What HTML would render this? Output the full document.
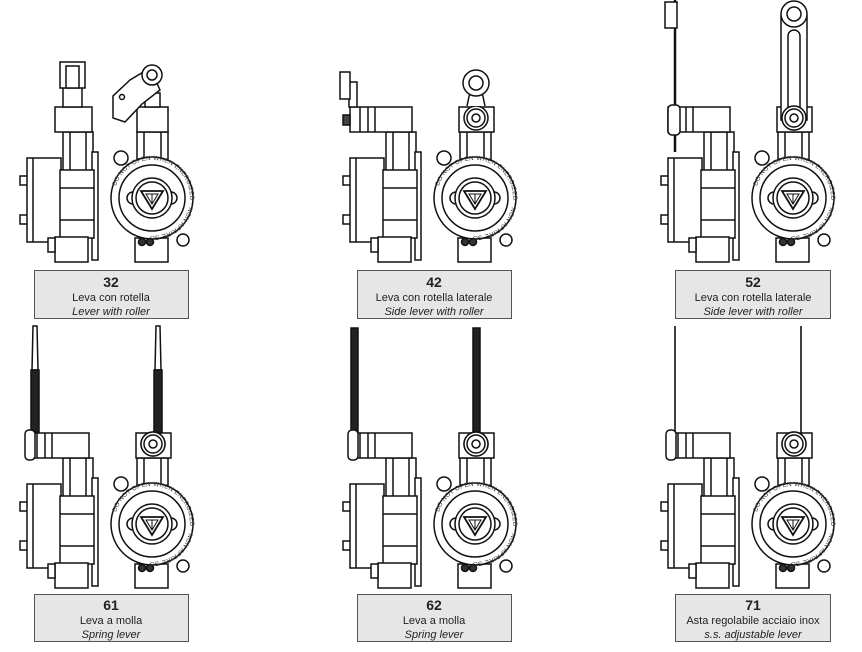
<!DOCTYPE html>
<html><head><meta charset="utf-8"><style>
html,body{margin:0;padding:0;background:#fff;}
svg{display:block;}
.lb{font-family:"Liberation Sans",sans-serif;fill:#222;}
</style></head><body>
<svg width="862" height="652" viewBox="0 0 862 652" xmlns="http://www.w3.org/2000/svg">
<defs>
<path id="ring" d="M152,236 A38,38 0 1,1 152.1,236"/>
<g id="base" fill="#fff" stroke="#111" stroke-width="1.5">
  <rect x="63" y="132" width="30" height="40"/>
  <line x1="70" y1="132" x2="70" y2="170"/><line x1="86" y1="132" x2="86" y2="170"/>
  <rect x="92" y="152" width="6" height="108"/>
  <rect x="20" y="176" width="9" height="9"/><rect x="20" y="215" width="9" height="9"/>
  <rect x="27" y="158" width="34" height="84"/>
  <line x1="33" y1="158" x2="33" y2="242"/>
  <rect x="60" y="170" width="34" height="68"/>
  <line x1="60" y1="188" x2="94" y2="188"/><line x1="60" y1="220" x2="94" y2="220"/>
  <rect x="55" y="237" width="33" height="25"/>
  <rect x="48" y="238" width="7" height="14"/>
  <rect x="137" y="132" width="31" height="30"/>
  <line x1="144" y1="132" x2="144" y2="162"/><line x1="161" y1="132" x2="161" y2="162"/>
  <rect x="135" y="238" width="33" height="24"/>
  <circle cx="121" cy="158" r="7"/><circle cx="183" cy="240" r="6"/>
  <circle cx="152" cy="198" r="41"/>
  <circle cx="152" cy="198" r="33"/>
  <circle cx="133" cy="198" r="6"/><circle cx="171" cy="198" r="6"/>
  <circle cx="152" cy="198" r="20"/>
  <circle cx="152" cy="198" r="16"/>
  <path d="M141,191 L163,191 L152,209 Z" fill="none" stroke-width="1.8"/>
  <path d="M146,194 L158,194 L152,204 Z M152,194 L152,204" fill="none" stroke-width="1"/>
  <circle cx="142" cy="242" r="3.5" fill="#333"/><circle cx="150" cy="242" r="3.5" fill="#333"/>
  <text font-family="Liberation Sans,sans-serif" font-size="6.2" fill="#333" stroke="none" letter-spacing="0.3"><textPath href="#ring" startOffset="30%">DO NOT OPEN WHEN ENERGIZED · NON APRIRE SOTTO TENSIONE</textPath></text>
</g>
<g id="lhead" fill="#fff" stroke="#111" stroke-width="1.5">
  <rect x="27" y="107" width="62" height="25"/>
  <line x1="37" y1="107" x2="37" y2="132"/><line x1="45" y1="107" x2="45" y2="132"/><line x1="52" y1="107" x2="52" y2="132"/>
  <rect x="136" y="107" width="35" height="25"/>
  <circle cx="153" cy="118" r="12"/><circle cx="153" cy="118" r="9"/><circle cx="153" cy="118" r="4"/>
</g>
</defs>

<g>
  <use href="#base"/>
  <g fill="#fff" stroke="#111" stroke-width="1.5">
    <rect x="55" y="107" width="37" height="25"/>
    <rect x="63" y="82" width="19" height="25"/>
    <rect x="60" y="62" width="25" height="26"/>
    <rect x="66" y="66" width="13" height="22"/>
    <rect x="137" y="107" width="31" height="25"/>
    <rect x="145" y="93" width="15" height="14"/>
    <path d="M113,96 L113,118 L125,122 L142,104 L160,90 L150,68 L130,80 Z"/>
    <circle cx="152" cy="75" r="10"/><circle cx="152" cy="75" r="5"/>
    <circle cx="122" cy="97" r="2.5"/>
  </g>
</g>
<g transform="translate(323,0)">
  <use href="#base"/><use href="#lhead"/>
  <g fill="#fff" stroke="#111" stroke-width="1.5">
    <rect x="26" y="82" width="8" height="25"/>
    <rect x="17" y="72" width="10" height="27"/>
    <rect x="20" y="115" width="7" height="10" fill="#444"/>
    <path d="M144,106 L147,92 L159,92 L162,106"/>
    <circle cx="153" cy="83" r="13"/><circle cx="153" cy="83" r="7"/>
  </g>
</g>
<g transform="translate(641,0)">
  <use href="#base"/><use href="#lhead"/>
  <g fill="#fff" stroke="#111" stroke-width="1.5">
    <line x1="34" y1="0" x2="34" y2="152" stroke-width="2.5"/>
    <rect x="24" y="2" width="12" height="26"/>
    <rect x="27" y="105" width="12" height="30" rx="4"/>
    <rect x="140" y="16" width="26" height="104"/>
    <rect x="147" y="30" width="12" height="90" rx="6"/>
    <circle cx="153" cy="14" r="13"/><circle cx="153" cy="14" r="7"/>
    <circle cx="153" cy="118" r="12"/><circle cx="153" cy="118" r="9"/><circle cx="153" cy="118" r="4"/>
  </g>
</g>
<g transform="translate(0,326)">
  <use href="#base"/><use href="#lhead"/>
  <g fill="#fff" stroke="#111" stroke-width="1.5">
    <path d="M33,0 L37,0 L38,44 L32,44 Z"/>
    <rect x="31" y="44" width="8" height="62" fill="#222"/>
    <rect x="25" y="104" width="10" height="30" rx="4"/>
    <path d="M156,0 L160,0 L161,44 L155,44 Z"/>
    <rect x="154" y="44" width="8" height="62" fill="#222"/>
    <circle cx="153" cy="118" r="12"/><circle cx="153" cy="118" r="9"/><circle cx="153" cy="118" r="4"/>
  </g>
</g>
<g transform="translate(323,326)">
  <use href="#base"/><use href="#lhead"/>
  <g fill="#fff" stroke="#111" stroke-width="1.5">
    <rect x="28" y="2" width="7" height="104" fill="#222"/>
    <rect x="25" y="104" width="10" height="30" rx="4"/>
    <rect x="150" y="2" width="7" height="104" fill="#222"/>
    <circle cx="153" cy="118" r="12"/><circle cx="153" cy="118" r="9"/><circle cx="153" cy="118" r="4"/>
  </g>
</g>
<g transform="translate(641,326)">
  <use href="#base"/><use href="#lhead"/>
  <g fill="#fff" stroke="#111" stroke-width="1.5">
    <line x1="34" y1="0" x2="34" y2="110" stroke-width="1.6"/>
    <rect x="25" y="104" width="10" height="30" rx="4"/>
    <line x1="160" y1="0" x2="160" y2="110" stroke-width="1.6"/>
    <circle cx="153" cy="118" r="12"/><circle cx="153" cy="118" r="9"/><circle cx="153" cy="118" r="4"/>
  </g>
</g>

<g fill="#e6e6e6" stroke="#555" stroke-width="1">
  <rect x="34.5" y="270.5" width="154" height="48"/>
  <rect x="357.5" y="270.5" width="154" height="48"/>
  <rect x="675.5" y="270.5" width="155" height="48"/>
  <rect x="34.5" y="594.5" width="154" height="47"/>
  <rect x="357.5" y="594.5" width="154" height="47"/>
  <rect x="675.5" y="594.5" width="155" height="47"/>
</g>
<g class="lb" text-anchor="middle">
  <text x="111" y="287" font-size="14" font-weight="bold">32</text>
  <text x="111" y="301" font-size="11">Leva con rotella</text>
  <text x="111" y="315" font-size="11" font-style="italic">Lever with roller</text>
  <text x="434" y="287" font-size="14" font-weight="bold">42</text>
  <text x="434" y="301" font-size="11">Leva con rotella laterale</text>
  <text x="434" y="315" font-size="11" font-style="italic">Side lever with roller</text>
  <text x="753" y="287" font-size="14" font-weight="bold">52</text>
  <text x="753" y="301" font-size="11">Leva con rotella laterale</text>
  <text x="753" y="315" font-size="11" font-style="italic">Side lever with roller</text>
  <text x="111" y="610" font-size="14" font-weight="bold">61</text>
  <text x="111" y="624" font-size="11">Leva a molla</text>
  <text x="111" y="638" font-size="11" font-style="italic">Spring lever</text>
  <text x="434" y="610" font-size="14" font-weight="bold">62</text>
  <text x="434" y="624" font-size="11">Leva a molla</text>
  <text x="434" y="638" font-size="11" font-style="italic">Spring lever</text>
  <text x="753" y="610" font-size="14" font-weight="bold">71</text>
  <text x="753" y="624" font-size="11">Asta regolabile acciaio inox</text>
  <text x="753" y="638" font-size="11" font-style="italic">s.s.  adjustable lever</text>
</g>
</svg>
</body></html>
